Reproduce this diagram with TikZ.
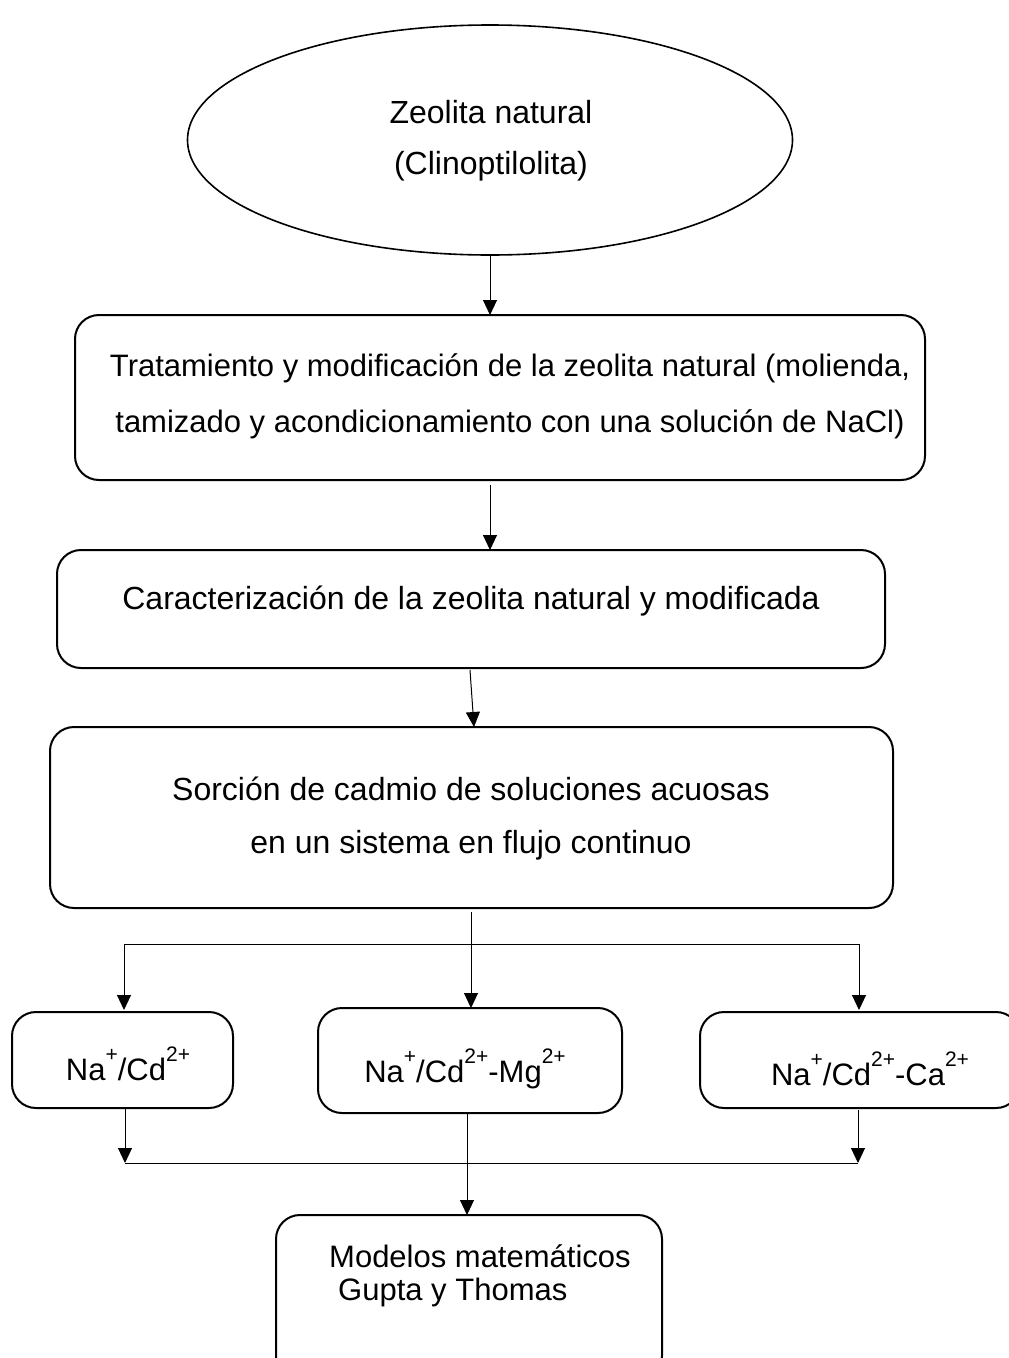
\documentclass[tikz,border=0pt]{standalone}
\usepackage{fontspec}
\setmainfont{Liberation Sans}
\usetikzlibrary{shapes.geometric,arrows.meta}
\newcommand{\supx}[1]{\raisebox{0.6em}{\fontsize{21}{21}\selectfont #1}}
\begin{document}
\begin{tikzpicture}[x=1pt,y=-1pt,
  box/.style={draw,line width=2pt,rounded corners=24pt},
  conn/.style={line width=1pt},
  arr/.style={conn,-{Triangle[length=15pt,width=14pt]}},
  lbl/.style={font=\fontsize{31}{36}\selectfont,inner sep=0pt},
  lblb/.style={font=\fontsize{32}{36}\selectfont,inner sep=0pt}]
\useasboundingbox (0,0) rectangle (1009,1358);
\clip (0,0) rectangle (1009,1358);
% ellipse
\node[draw,ellipse,line width=1.6pt,minimum width=605pt,minimum height=230pt] (e) at (490,140) {};
\node[lblb] (et1) at (491,112) {Zeolita natural};
\node[lblb] (et2) at (491,166) {(Clinoptilolita)};
% box 2
\draw[box] (75,315) rectangle (925,480);
\coordinate (b2t) at (490,315);
\coordinate (b2b) at (490,485);
\node[lbl] (t2a) at (510,368) {Tratamiento y modificación de la zeolita natural (molienda,};
\node[lbl] (t2b) at (510,424) {tamizado y acondicionamiento con una solución de NaCl)};
% box 3
\draw[box] (57,550) rectangle (885,668);
\coordinate (b3t) at (490,550);
\coordinate (b3b) at (470,670);
\node[lblb] (t3) at (471,601) {Caracterización de la zeolita natural y modificada};
% box 4
\draw[box] (50,727) rectangle (893,908);
\coordinate (b4t) at (474,727);
\coordinate (b4b) at (471,912);
\node[lblb] (t4a) at (471,789) {Sorción de cadmio de soluciones acuosas};
\node[lblb] (t4b) at (471,845) {en un sistema en flujo continuo};
% split
\coordinate (sl) at (124,944);
\coordinate (sr) at (859,944);
\coordinate (l1t) at (124,1010);
\coordinate (m1t) at (471,1008);
\coordinate (r1t) at (859,1010);
% bottom row
\draw[box] (12,1012) rectangle (233,1108);
\node[lbl,anchor=base] (n1) at (128,1080) {Na\supx{+}/Cd\supx{2+}};
\draw[box] (318,1008) rectangle (622,1113);
\node[lbl,anchor=base] (n2) at (465,1082) {Na\supx{+}/Cd\supx{2+}-Mg\supx{2+}};
\draw[box] (700,1012) rectangle (1020,1108);
\node[lbl,anchor=base] (n3) at (870,1085) {Na\supx{+}/Cd\supx{2+}-Ca\supx{2+}};
\coordinate (l1b) at (125,1108);
\coordinate (m1b) at (467,1113);
\coordinate (r1b) at (858,1110);
\coordinate (jl) at (125,1163);
\coordinate (jr) at (858,1163);
\coordinate (b5t) at (467,1215);
% bottom box
\draw[box] (276,1215) rectangle (662,1380);
\node[lbl,anchor=west] (t5a) at (329,1256) {Modelos matemáticos};
\node[lbl,anchor=west] (t5b) at (338,1292) {Gupta y Thomas};
% connectors
\draw[arr] (e.south) -- (b2t);
\draw[arr] (b2b) -- (b3t);
\draw[arr] (b3b) -- (b4t);
\draw[arr] (b4b) -- (m1t);
\draw[conn] (sl) -- (sr);
\draw[arr] (sl) -- (l1t);
\draw[arr] (sr) -- (r1t);
\draw[arr] (l1b) -- (jl);
\draw[arr] (r1b) -- (jr);
\draw[conn] (jl) -- (jr);
\draw[arr] (m1b) -- (b5t);
\end{tikzpicture}
\end{document}
